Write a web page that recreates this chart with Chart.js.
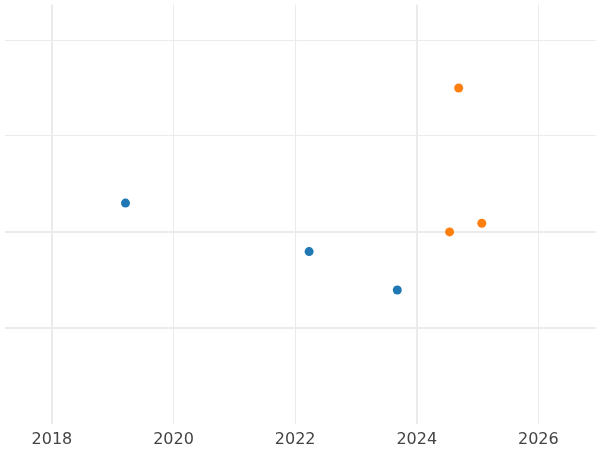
<!DOCTYPE html>
<html><head><script src="https://cdn.jsdelivr.net/npm/chart.js"></script>
<style>html,body{margin:0;padding:0;background:#fff}#w{width:600px;height:450px}</style></head>
<body><div id="w"><canvas id="c"></canvas></div>
<script>
const blueX=[2019.21,2022.23,2023.68];
const blueY=[0.30,-0.205,-0.605];
const orangeX=[2024.69,2024.54,2025.07];
const orangeY=[1.50,0.0,0.09];
const xTicks=[2018,2020,2022,2024,2026];
const yTicks=[-1,0,1,2];
const pts=(xs,ys)=>xs.map((x,i)=>({x,y:ys[i]}));
new Chart(document.getElementById('c'),{
type:'scatter',
data:{datasets:[
{data:pts(blueX,blueY),backgroundColor:'#1f77b4',borderWidth:0,pointRadius:4.5},
{data:pts(orangeX,orangeY),backgroundColor:'#ff7f0e',borderWidth:0,pointRadius:4.5}]},
options:{responsive:true,maintainAspectRatio:false,animation:false,
layout:{padding:{left:-5,right:-5,top:-5,bottom:-5}},
plugins:{legend:{display:false},tooltip:{enabled:false}},
scales:{
x:{type:'linear',min:2017.22,max:2026.94,
afterBuildTicks:s=>{s.ticks=xTicks.map(v=>({value:v}));},
border:{display:false},
grid:{color:'#ebebeb',lineWidth:c=>(c.tick&&(c.tick.value===2018||c.tick.value===2024))?2:1,drawTicks:false},
ticks:{color:'#444',font:{family:'DejaVu Sans',size:16},padding:6,callback:v=>String(v)}},
y:{type:'linear',min:-2,max:2.37,
afterBuildTicks:s=>{s.ticks=yTicks.map(v=>({value:v}));},
border:{display:false},
grid:{color:'#ebebeb',lineWidth:c=>(c.tick&&(c.tick.value===0||c.tick.value===-1))?2:1,drawTicks:false},
ticks:{display:false}}
}}});
</script></body></html>
